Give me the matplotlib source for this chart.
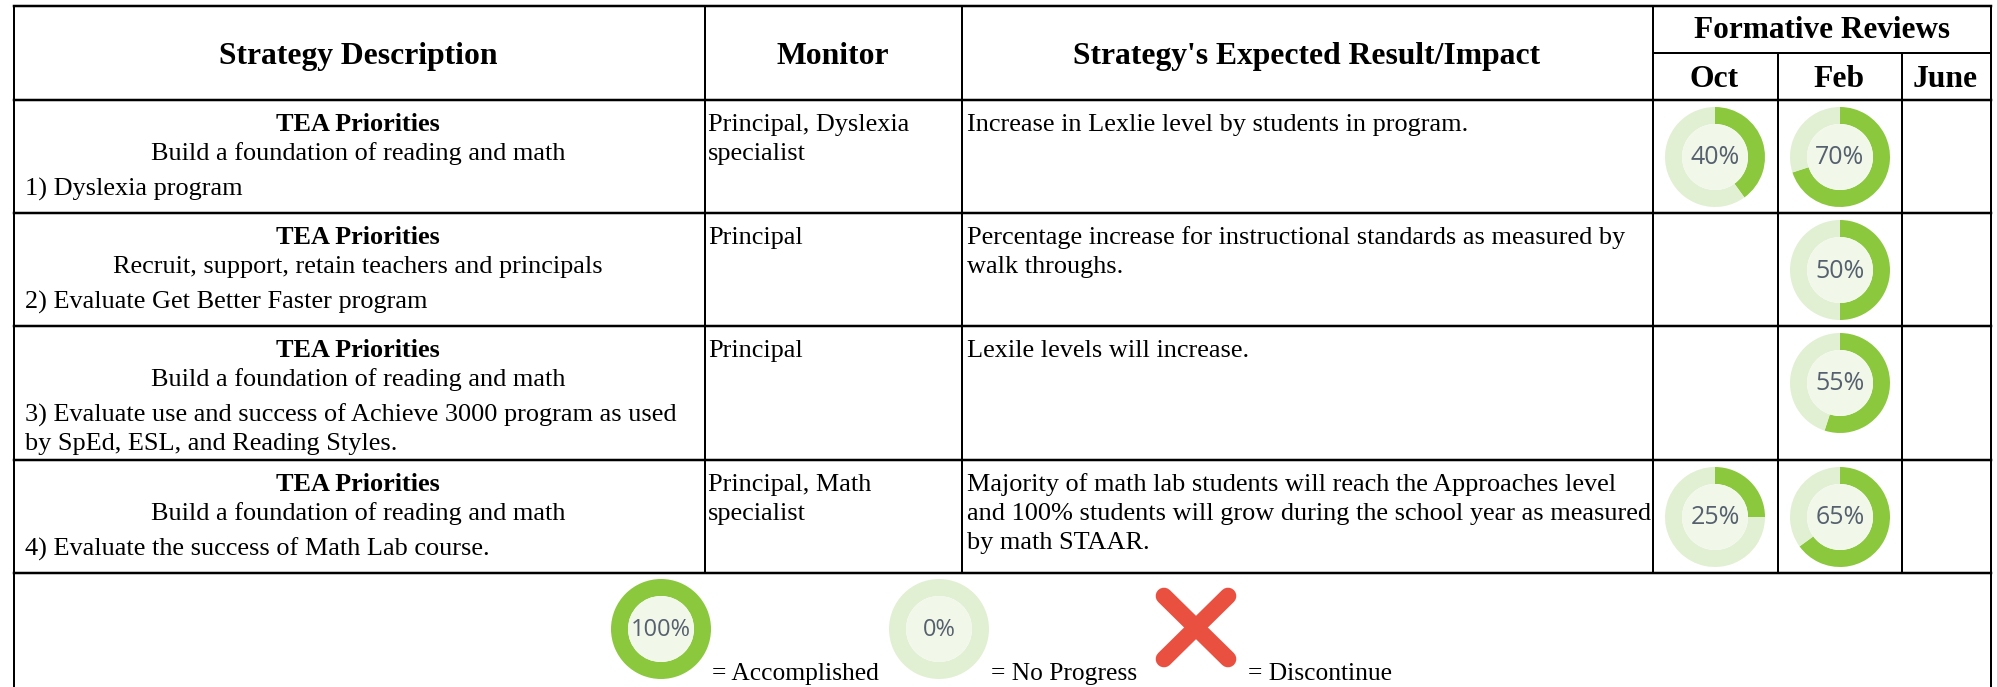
# Recreate the campus improvement plan strategy table
import matplotlib
matplotlib.use('Agg')
import matplotlib.pyplot as plt
from matplotlib.lines import Line2D

# Table text
headers = ['Strategy Description', 'Monitor', "Strategy's Expected Result/Impact"]
review_title = 'Formative Reviews'
review_months = ['Oct', 'Feb', 'June']
priority_title = 'TEA Priorities'
priorities = ['Build a foundation of reading and math',
              'Recruit, support, retain teachers and principals',
              'Build a foundation of reading and math',
              'Build a foundation of reading and math']
strategies = [['1) Dyslexia program'],
              ['2) Evaluate Get Better Faster program'],
              ['3) Evaluate use and success of Achieve 3000 program as used',
               'by SpEd, ESL, and Reading Styles.'],
              ['4) Evaluate the success of Math Lab course.']]
monitors = [['Principal, Dyslexia', 'specialist'],
            ['Principal'],
            ['Principal'],
            ['Principal, Math', 'specialist']]
impacts = [['Increase in Lexlie level by students in program.'],
           ['Percentage increase for instructional standards as measured by',
            'walk throughs.'],
           ['Lexile levels will increase.'],
           ['Majority of math lab students will reach the Approaches level',
            'and 100% students will grow during the school year as measured',
            'by math STAAR.']]

# Review percentages, None = empty cell
oct_values = [40, None, None, 25]
feb_values = [70, 50, 55, 65]

# Legend
legend_values = [100, 0]
legend_labels = ['= Accomplished', '= No Progress', '= Discontinue']

# Layout in pixels, measured from the top left of the image
W, H = 1997, 687
col_x = [14, 705, 962, 1653, 1778, 1902, 1991]
row_y = [6, 100, 213, 326, 460, 573]

GREEN = '#8CC83E'
PALE = '#E1F0D3'
INNER = '#F1F8EA'
RED = '#E95040'
SERIF = 'Liberation Serif'

fig = plt.figure(figsize=(W / 100, H / 100), dpi=100, facecolor='white')
ax = fig.add_axes([0, 0, 1, 1])


def Y(y):
    return H - y


def hline(x0, x1, y, lw=2.0):
    ax.add_line(Line2D([x0, x1], [Y(y), Y(y)], color='black', lw=lw * 0.72, solid_capstyle='projecting'))


def vline(x, y0, y1, lw=2.0):
    ax.add_line(Line2D([x, x], [Y(y0), Y(y1)], color='black', lw=lw * 0.72, solid_capstyle='projecting'))


def label(x, y, s, ha='left', size=18.9, weight='normal'):
    ax.text(x, Y(y), s, ha=ha, va='baseline', fontsize=size, fontweight=weight, family=SERIF, color='black')


def donut(cx, cy, value, size=18, radius=50):
    # ring drawn as a pie from the value, starts at 12 o'clock and goes clockwise
    ax.pie([value, 100 - value], colors=[GREEN, PALE], center=(cx, Y(cy)), radius=radius,
           startangle=90, counterclock=False, wedgeprops={'width': radius * 0.34, 'linewidth': 0})
    ax.add_patch(plt.Circle((cx, Y(cy)), radius * 0.66, color=INNER, lw=0, zorder=3))
    ax.text(cx, Y(cy) - 1, f'{value}%', ha='center', va='center', fontsize=size, family='Open Sans',
            color='#56606E', zorder=4)


# Grid lines
hline(col_x[0], col_x[-1], row_y[0], 2.5)
for y in row_y[1:]:
    hline(col_x[0], col_x[-1], y, 2.5)
hline(col_x[3], col_x[-1], 53)
vline(col_x[0], row_y[0], H + 5)
vline(col_x[-1], row_y[0], H + 5)
vline(col_x[1], row_y[0], row_y[-1])
vline(col_x[2], row_y[0], row_y[-1])
vline(col_x[3], row_y[0], row_y[-1])
vline(col_x[4], 53, row_y[-1])
vline(col_x[5], 53, row_y[-1])

# Header
label(358, 64, headers[0], ha='center', size=22.8, weight='bold')
label(833, 64, headers[1], ha='center', size=22.8, weight='bold')
label(1307, 64, headers[2], ha='center', size=22.8, weight='bold')
label(1822, 38, review_title, ha='center', size=22.5, weight='bold')
for x, month in zip([1714, 1839, 1945], review_months):
    label(x, 87, month, ha='center', size=22.8, weight='bold')

# Body rows
for i in range(len(priorities)):
    top = row_y[i + 1]
    label(358, top + 31, priority_title, ha='center', weight='bold')
    label(358, top + 60, priorities[i], ha='center')
    for j, line in enumerate(strategies[i]):
        label(25, top + 96 + j * 28, line)
    for j, line in enumerate(monitors[i]):
        label(708, top + 31 + j * 29, line)
    for j, line in enumerate(impacts[i]):
        label(967, top + 31 + j * 29, line)
    if oct_values[i] is not None:
        donut(1715, top + 57, oct_values[i])
    if feb_values[i] is not None:
        donut(1840, top + 57, feb_values[i])

# Legend row
donut(661, 629, legend_values[0], size=17)
donut(939, 629, legend_values[1], size=17)
ax.add_line(Line2D([1164, 1228], [Y(596), Y(659)], color=RED, lw=12, solid_capstyle='round'))
ax.add_line(Line2D([1164, 1228], [Y(659), Y(596)], color=RED, lw=12, solid_capstyle='round'))
for x, text in zip([712, 991, 1248], legend_labels):
    label(x, 680, text, size=18.4)

ax.set_aspect('auto')
ax.set_xlim(0, W)
ax.set_ylim(0, H)
ax.axis('off')

fig.savefig('out.png', dpi=100)
